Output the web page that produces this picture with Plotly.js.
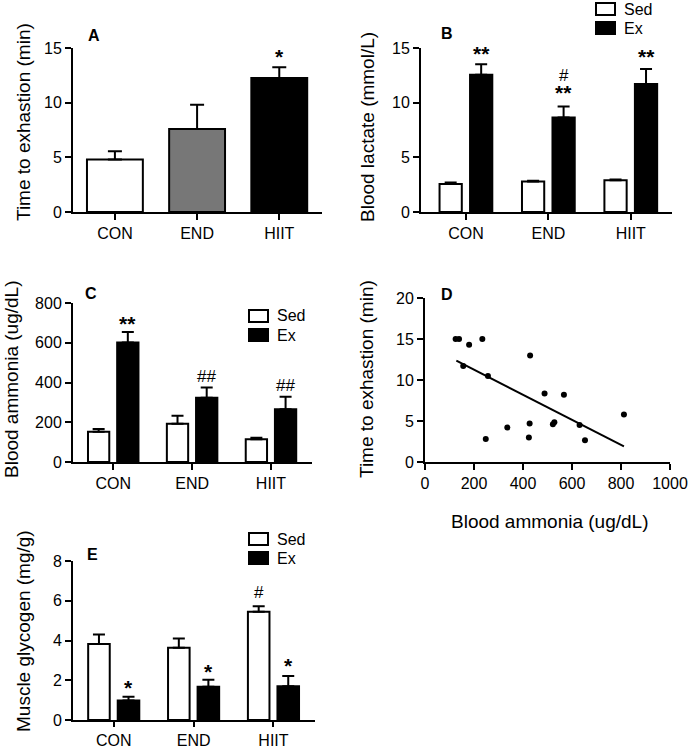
<!DOCTYPE html>
<html>
<head>
<meta charset="utf-8">
<script src="https://cdn.plot.ly/plotly-3.0.1.min.js"></script>
<style>
body { margin: 0; background: #fff; }
#fig { width: 688px; height: 749px; }
</style>
</head>
<body>
<div id="fig"></div>
<script>
var groups = ["CON", "END", "HIIT"];
var seriesNames = ["Sed", "Ex"];
var seriesFills = ["#ffffff", "#000000"];

// A: time to exhaustion
var timeMean = [4.8, 7.6, 12.25];
var timeSem = [0.75, 2.2, 1.0];
var timeColors = ["#ffffff", "#777777", "#000000"];

// B: blood lactate
var lactSed = [2.55, 2.78, 2.9];
var lactSedSem = [0.15, 0.07, 0.07];
var lactEx = [12.55, 8.65, 11.7];
var lactExSem = [0.97, 1.0, 1.38];

// C: blood ammonia
var ammSed = [152, 192, 115];
var ammSedSem = [14, 41, 7];
var ammEx = [601, 323, 266];
var ammExSem = [53, 52, 62];

// D: correlation
var corrAmmonia = [125, 139, 180, 234, 156, 257, 429, 488, 567, 336, 427, 248, 424, 522, 528, 631, 653, 812];
var corrTime = [15, 15, 14.3, 15, 11.7, 10.5, 13.0, 8.35, 8.2, 4.2, 4.7, 2.8, 3.0, 4.6, 4.85, 4.5, 2.65, 5.8];
var fitX = [128, 812];
var fitY = [12.35, 1.9];

// E: muscle glycogen
var glySed = [3.83, 3.63, 5.45];
var glySedSem = [0.47, 0.47, 0.27];
var glyEx = [0.98, 1.67, 1.7];
var glyExSem = [0.19, 0.36, 0.52];

// significance marks: [panel, group index, series, y, text]
var sigMarks = [
	["A", 2, "one", 14.4, "*"],
	["B", 0, "ex", 14.7, "**"],
	["B", 1, "ex", 12.5, "#"],
	["B", 1, "ex", 11.1, "**"],
	["B", 2, "ex", 14.4, "**"],
	["C", 0, "ex", 705, "**"],
	["C", 1, "ex", 428, "##"],
	["C", 2, "ex", 387, "##"],
	["E", 0, "ex", 1.73, "*"],
	["E", 1, "ex", 2.53, "*"],
	["E", 2, "sed", 6.42, "#"],
	["E", 2, "ex", 2.83, "*"]
];

var font = "Liberation Sans, Arial, sans-serif";
var barW = 0.27;
var sedOff = -0.32;
var exOff = 0.05;

function errBar(arr, w) {
	return {type: "data", symmetric: false, array: arr, arrayminus: arr.map(function () { return 0; }),
		color: "#000", thickness: 2, width: w};
}

function pair(sed, sedSem, ex, exSem, xa, ya) {
	return [{
		type: "bar", x: groups, y: sed, name: seriesNames[0], xaxis: xa, yaxis: ya,
		width: barW, offset: sedOff, showlegend: false,
		marker: {color: seriesFills[0], line: {color: "#000", width: 2}},
		error_y: errBar(sedSem, 6)
	}, {
		type: "bar", x: groups, y: ex, name: seriesNames[1], xaxis: xa, yaxis: ya,
		width: barW, offset: exOff, showlegend: false,
		marker: {color: seriesFills[1], line: {color: "#000", width: 2}},
		error_y: errBar(exSem, 6)
	}];
}

var data = [{
	type: "bar", x: groups, y: timeMean, xaxis: "x", yaxis: "y", width: 0.68,
	showlegend: false,
	marker: {color: timeColors, line: {color: "#000", width: 2}},
	error_y: errBar(timeSem, 7)
}];
data = data.concat(pair(lactSed, lactSedSem, lactEx, lactExSem, "x2", "y2"));
data = data.concat(pair(ammSed, ammSedSem, ammEx, ammExSem, "x3", "y3"));
data.push({
	type: "scatter", mode: "markers", x: corrAmmonia, y: corrTime, xaxis: "x4", yaxis: "y4",
	showlegend: false, marker: {color: "#000", size: 6}
});
data.push({
	type: "scatter", mode: "lines", x: fitX, y: fitY, xaxis: "x4", yaxis: "y4",
	showlegend: false, line: {color: "#000", width: 2}
});
data = data.concat(pair(glySed, glySedSem, glyEx, glyExSem, "x5", "y5"));

function catAxis(dom, yref) {
	return {domain: dom, anchor: yref, type: "category", range: [-0.51, 2.52],
		showline: true, linecolor: "#000", linewidth: 2, showgrid: false, zeroline: false,
		ticks: "outside", ticklen: 6, tickwidth: 2, tickcolor: "#000",
		tickfont: {size: 16, color: "#000"}, fixedrange: true};
}
function valAxis(dom, xref, range, dtick) {
	return {domain: dom, anchor: xref, range: range, dtick: dtick,
		showline: true, linecolor: "#000", linewidth: 2, showgrid: false, zeroline: false,
		ticks: "outside", ticklen: 6, tickwidth: 2, tickcolor: "#000",
		tickfont: {size: 16, color: "#000"}, fixedrange: true};
}

function px(v) { return v / 688; }
function py(v) { return 1 - v / 749; }

var xB = catAxis([px(421), px(672)], "y2");
xB.range = [-0.545, 2.5];
var xE = catAxis([px(73), px(315)], "y5");
xE.ticklen = 5;

var layout = {
	width: 688, height: 749,
	margin: {l: 0, r: 0, t: 0, b: 0},
	paper_bgcolor: "#fff", plot_bgcolor: "#fff",
	font: {family: font, color: "#000", size: 16},
	barmode: "group",
	showlegend: false,
	xaxis: catAxis([px(73), px(322)], "y"),
	yaxis: valAxis([py(212), py(48)], "x", [0, 15], 5),
	xaxis2: xB,
	yaxis2: valAxis([py(212), py(48)], "x2", [0, 15], 5),
	xaxis3: catAxis([px(73), px(312)], "y3"),
	yaxis3: valAxis([py(462), py(303)], "x3", [0, 800], 200),
	xaxis4: valAxis([px(425), px(670)], "y4", [0, 1000], 200),
	yaxis4: valAxis([py(462), py(298)], "x4", [0, 20], 5),
	xaxis5: xE,
	yaxis5: valAxis([py(720), py(561)], "x5", [0, 8], 2),
	shapes: [],
	annotations: []
};

// legend keys drawn as boxes + text: [left x, top y of first box]
var legendSpots = [[595, 2], [248, 309], [248, 532]];
legendSpots.forEach(function (p) {
	seriesNames.forEach(function (nm, i) {
		var top = p[1] + i * 19;
		layout.shapes.push({type: "rect", xref: "paper", yref: "paper",
			x0: px(p[0] + 1), x1: px(p[0] + 20), y0: py(top + 13), y1: py(top + 1),
			fillcolor: seriesFills[i], line: {color: "#000", width: 2}});
		layout.annotations.push({text: nm, xref: "paper", yref: "paper",
			x: px(p[0] + 27), y: py(top + 7), xanchor: "left", yanchor: "middle",
			showarrow: false, font: {size: 16}});
	});
});

// panel letters
var letters = [["A", 86, 35], ["B", 439, 34], ["C", 83, 293], ["D", 439, 294], ["E", 85, 554]];
letters.forEach(function (l) {
	layout.annotations.push({text: "<b>" + l[0] + "</b>", xref: "paper", yref: "paper",
		x: px(l[1]), y: py(l[2]), xanchor: "left", yanchor: "middle", showarrow: false,
		font: {size: 16}});
});

// axis titles
var titles = [
	["Time to exhastion (min)", 24, 122, -90],
	["Blood lactate (mmol/L)", 367, 127, -90],
	["Blood ammonia (ug/dL)", 12, 379, -90],
	["Time to exhastion (min)", 367, 379, -90],
	["Muscle glycogen (mg/g)", 23, 631, -90],
	["Blood ammonia (ug/dL)", 550, 521, 0]
];
titles.forEach(function (t) {
	layout.annotations.push({text: t[0], xref: "paper", yref: "paper",
		x: px(t[1]), y: py(t[2]), xanchor: "center", yanchor: "middle", textangle: t[3],
		showarrow: false, font: {size: 19}});
});

var axisOf = {A: ["x", "y"], B: ["x2", "y2"], C: ["x3", "y3"], E: ["x5", "y5"]};
sigMarks.forEach(function (s) {
	var dx = s[2] === "ex" ? exOff + barW / 2 : (s[2] === "sed" ? sedOff + barW / 2 : 0);
	var star = s[4].charAt(0) === "*";
	layout.annotations.push({text: star ? "<b>" + s[4] + "</b>" : s[4],
		xref: axisOf[s[0]][0], yref: axisOf[s[0]][1],
		x: s[1] + dx, y: s[3], xanchor: "center", yanchor: "middle", showarrow: false,
		yshift: star ? -2 : 0, font: {size: star ? 21 : 17}});
});

Plotly.newPlot("fig", data, layout, {displayModeBar: false, staticPlot: true});
</script>
</body>
</html>
